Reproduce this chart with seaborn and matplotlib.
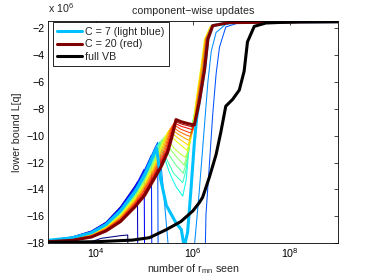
import numpy as np
import matplotlib
matplotlib.use("Agg")
import matplotlib.pyplot as plt
from matplotlib.ticker import FixedLocator, NullLocator, LogFormatterSciNotation
import seaborn as sns

sns.set_theme(style="white")
plt.rcParams['font.family'] = ['Liberation Sans', 'DejaVu Sans']
plt.rcParams['mathtext.fontset'] = 'custom'
plt.rcParams['mathtext.rm'] = 'Liberation Sans'
plt.rcParams['mathtext.it'] = 'Liberation Sans:italic'

# x values are log10(number of r_mn seen), y in units of 1e6
c01_x = [3.0, 3.9, 4.1, 4.5, 4.65, 4.66]
c01_y = [-17.95, -17.9, -17.65, -17.45, -17.4, -19.5]
c02_x = [3.0, 3.5, 3.9, 4.2, 4.5, 4.8, 4.85, 4.86]
c02_y = [-17.8, -17.55, -17.1, -16.45, -15.3, -13.75, -13.45, -19.5]
c03_x = [3.0, 3.5, 3.9, 4.2, 4.5, 4.8, 4.99, 5.0]
c03_y = [-17.8, -17.56, -17.13, -16.49, -15.36, -13.84, -12.5, -19.5]
c04_x = [3.0, 3.5, 3.9, 4.2, 4.5, 4.8, 5.0, 5.14, 5.15]
c04_y = [-17.8, -17.58, -17.15, -16.52, -15.42, -13.92, -12.55, -11.45, -19.5]
c05_x = [3.0, 3.5, 3.9, 4.2, 4.5, 4.8, 5.0, 5.2, 5.27, 5.28, 6.25, 6.27, 6.34, 6.41, 6.48, 6.55, 6.68, 6.96, 9.0]
c05_y = [-17.8, -17.59, -17.18, -16.56, -15.48, -14.01, -12.65, -11.0, -10.5, -19.5, -19.5, -15.9, -12.2, -8.4, -5.4, -3.4, -1.9, -1.57, -1.5]
c06_x = [3.0, 3.5, 3.9, 4.2, 4.5, 4.8, 5.0, 5.2, 5.3, 5.4, 5.52, 6.0, 6.13, 6.24, 6.31, 6.38, 6.48, 6.68, 7.0, 9.0]
c06_y = [-17.8, -17.6, -17.2, -16.59, -15.54, -14.09, -12.8, -11.15, -10.55, -14.5, -19.5, -19.5, -14.2, -9.2, -6.0, -3.7, -2.3, -1.7, -1.55, -1.5]
c07_x = [3.0, 3.5, 3.9, 4.2, 4.5, 4.8, 5.0, 5.2, 5.25, 5.33, 5.45, 5.65, 5.76, 5.82, 5.89, 5.96, 6.03, 6.08, 6.13, 6.24, 6.31, 6.41, 6.75, 9.0]
c07_y = [-17.8, -17.61, -17.23, -16.63, -15.6, -14.18, -12.95, -11.3, -10.95, -13.2, -15.2, -16.5, -17.0, -18.3, -17.2, -14.0, -10.5, -8.6, -7.5, -5.1, -2.8, -1.8, -1.57, -1.5]
c08_x = [3.0, 3.5, 3.9, 4.2, 4.5, 4.8, 5.0, 5.2, 5.28, 5.38, 5.52, 5.65, 5.79, 5.86, 5.91, 5.97, 6.08, 6.18, 6.26, 6.38, 6.68, 9.0]
c08_y = [-17.85, -17.63, -17.25, -16.67, -15.67, -14.27, -13.05, -11.45, -10.6, -11.3, -12.8, -13.8, -14.5, -13.3, -11.3, -9.5, -7.5, -5.0, -2.8, -1.83, -1.59, -1.5]
c09_x = [3.0, 3.5, 3.9, 4.2, 4.5, 4.8, 5.0, 5.2, 5.31, 5.45, 5.6, 5.79, 5.86, 5.92, 5.98, 6.08, 6.18, 6.26, 6.38, 6.68, 9.0]
c09_y = [-17.85, -17.64, -17.28, -16.7, -15.73, -14.35, -13.15, -11.6, -10.45, -11.7, -12.8, -13.5, -12.5, -10.9, -9.3, -7.5, -5.0, -2.8, -1.83, -1.59, -1.5]
c10_x = [3.0, 3.5, 3.9, 4.2, 4.5, 4.8, 5.0, 5.2, 5.35, 5.5, 5.65, 5.8, 5.87, 5.93, 5.99, 6.08, 6.18, 6.26, 6.38, 6.68, 9.0]
c10_y = [-17.85, -17.65, -17.3, -16.74, -15.79, -14.44, -13.25, -11.75, -10.3, -11.4, -12.2, -12.8, -11.9, -10.5, -9.2, -7.5, -5.0, -2.8, -1.83, -1.59, -1.5]
c11_x = [3.0, 3.5, 3.9, 4.2, 4.5, 4.8, 5.0, 5.2, 5.39, 5.55, 5.7, 5.82, 5.88, 5.94, 6.0, 6.08, 6.18, 6.26, 6.38, 6.68, 9.0]
c11_y = [-17.85, -17.66, -17.33, -16.77, -15.85, -14.52, -13.35, -11.9, -10.15, -11.1, -11.75, -12.2, -11.4, -10.2, -9.1, -7.5, -5.0, -2.8, -1.83, -1.59, -1.5]
c12_x = [3.0, 3.5, 3.9, 4.2, 4.5, 4.8, 5.0, 5.2, 5.43, 5.6, 5.74, 5.84, 5.91, 5.97, 6.03, 6.08, 6.18, 6.26, 6.38, 6.68, 9.0]
c12_y = [-17.85, -17.67, -17.35, -16.81, -15.91, -14.61, -13.45, -12.0, -10.0, -10.9, -11.35, -11.6, -11.1, -10.0, -8.9, -7.5, -5.0, -2.8, -1.83, -1.59, -1.5]
c13_x = [3.0, 3.5, 3.9, 4.2, 4.5, 4.8, 5.0, 5.2, 5.35, 5.47, 5.65, 5.8, 5.88, 5.95, 6.0, 6.06, 6.16, 6.24, 6.36, 6.65, 9.0]
c13_y = [-17.85, -17.68, -17.38, -16.85, -15.97, -14.7, -13.6, -12.15, -10.8, -9.75, -10.4, -10.85, -11.1, -10.3, -9.2, -7.5, -5.0, -2.8, -1.85, -1.6, -1.5]
c14_x = [3.0, 3.5, 3.9, 4.2, 4.5, 4.8, 5.0, 5.2, 5.37, 5.5, 5.68, 5.82, 5.9, 5.96, 6.02, 6.07, 6.17, 6.25, 6.37, 6.66, 9.0]
c14_y = [-17.85, -17.7, -17.4, -16.88, -16.03, -14.78, -13.7, -12.3, -10.85, -9.6, -10.15, -10.5, -10.7, -10.1, -9.0, -7.5, -5.0, -2.8, -1.84, -1.6, -1.5]
c15_x = [3.0, 3.5, 3.9, 4.2, 4.5, 4.8, 5.0, 5.2, 5.39, 5.53, 5.7, 5.84, 5.92, 5.98, 6.03, 6.08, 6.18, 6.26, 6.38, 6.68, 9.0]
c15_y = [-17.9, -17.72, -17.43, -16.92, -16.09, -14.87, -13.8, -12.45, -10.9, -9.45, -9.9, -10.2, -10.35, -9.8, -8.9, -7.5, -5.0, -2.8, -1.83, -1.59, -1.5]
c16_x = [3.0, 3.5, 3.9, 4.2, 4.5, 4.8, 5.0, 5.2, 5.41, 5.56, 5.72, 5.86, 5.94, 6.0, 6.04, 6.09, 6.2, 6.27, 6.39, 6.7, 9.0]
c16_y = [-17.9, -17.74, -17.45, -16.95, -16.15, -14.95, -13.95, -12.6, -11.0, -9.3, -9.7, -9.95, -10.05, -9.6, -8.8, -7.5, -5.05, -2.8, -1.82, -1.58, -1.5]
c17_x = [3.0, 3.5, 3.9, 4.2, 4.5, 4.8, 5.0, 5.2, 5.43, 5.59, 5.74, 5.88, 5.96, 6.01, 6.05, 6.1, 6.21, 6.28, 6.4, 6.72, 9.0]
c17_y = [-17.9, -17.76, -17.48, -16.99, -16.22, -15.04, -14.05, -12.75, -11.05, -9.15, -9.5, -9.7, -9.8, -9.4, -8.7, -7.5, -5.05, -2.8, -1.81, -1.58, -1.5]
c18_x = [3.0, 3.5, 3.9, 4.2, 4.5, 4.8, 5.0, 5.2, 5.45, 5.61, 5.76, 5.9, 5.98, 6.02, 6.06, 6.11, 6.22, 6.29, 6.4, 6.73, 9.0]
c18_y = [-17.9, -17.77, -17.5, -17.03, -16.28, -15.13, -14.2, -12.9, -11.1, -9.05, -9.3, -9.45, -9.55, -9.2, -8.6, -7.5, -5.1, -2.8, -1.8, -1.57, -1.5]
c19_x = [3.0, 3.5, 3.9, 4.2, 4.5, 4.8, 5.0, 5.2, 5.47, 5.63, 5.78, 5.92, 6.0, 6.03, 6.07, 6.12, 6.23, 6.3, 6.41, 6.74, 9.0]
c19_y = [-17.9, -17.79, -17.53, -17.06, -16.34, -15.21, -14.3, -13.05, -11.1, -8.95, -9.15, -9.28, -9.35, -9.0, -8.4, -7.5, -5.1, -2.8, -1.8, -1.57, -1.5]
c20_x = [3.0, 3.5, 3.9, 4.2, 4.5, 4.8, 5.0, 5.2, 5.35, 5.48, 5.58, 5.65, 5.75, 5.9, 6.03, 6.13, 6.24, 6.31, 6.41, 6.75, 9.0]
c20_y = [-17.9, -17.8, -17.55, -17.1, -16.4, -15.3, -14.45, -13.2, -12.25, -11.2, -9.9, -8.8, -8.95, -9.1, -9.2, -7.5, -5.1, -2.8, -1.8, -1.57, -1.5]

vb_x = [3.0, 4.0, 4.75, 5.1, 5.45, 5.75, 6.0, 6.13, 6.2, 6.34, 6.48, 6.58, 6.68, 6.82, 6.96, 7.06, 7.13, 7.27, 7.51, 8.2, 9.0]
vb_y = [-17.95, -17.9, -17.78, -17.6, -17.0, -16.4, -15.6, -15.0, -14.6, -13.1, -11.4, -9.7, -7.8, -7.3, -6.6, -5.2, -3.0, -1.85, -1.6, -1.5, -1.5]

curves = [(c01_x, c01_y), (c02_x, c02_y), (c03_x, c03_y), (c04_x, c04_y), (c05_x, c05_y),
          (c06_x, c06_y), (c07_x, c07_y), (c08_x, c08_y), (c09_x, c09_y), (c10_x, c10_y),
          (c11_x, c11_y), (c12_x, c12_y), (c13_x, c13_y), (c14_x, c14_y), (c15_x, c15_y),
          (c16_x, c16_y), (c17_x, c17_y), (c18_x, c18_y), (c19_x, c19_y), (c20_x, c20_y)]

y_ticks = [-18, -16, -14, -12, -10, -8, -6, -4, -2]
x_ticks = [1e4, 1e6, 1e8]

jet = plt.get_cmap('jet')
colors = [jet(i / 19) for i in range(20)]

fig = plt.figure(figsize=(3.73, 2.8), dpi=100)
ax = fig.add_axes([0.1287, 0.132, 0.777, 0.793])

# thin lines for every C
for i, (xs, ys) in enumerate(curves):
    if i in (6, 19):
        continue
    sns.lineplot(x=10 ** np.array(xs), y=ys, ax=ax, color=colors[i], lw=0.75,
                 sort=False, estimator=None)

# highlighted ones
sns.lineplot(x=10 ** np.array(c07_x), y=c07_y, ax=ax, color=colors[6], lw=2.2,
             sort=False, estimator=None, label='C = 7 (light blue)')
sns.lineplot(x=10 ** np.array(c20_x), y=c20_y, ax=ax, color=colors[19], lw=2.2,
             sort=False, estimator=None, label='C = 20 (red)')
sns.lineplot(x=10 ** np.array(vb_x), y=vb_y, ax=ax, color='black', lw=2.2,
             sort=False, estimator=None, label='full VB')

ax.set_xscale('log')
ax.set_xlim(1e3, 1e9)
ax.set_ylim(-18, -1.45)
ax.xaxis.set_major_locator(FixedLocator(x_ticks))
ax.xaxis.set_major_formatter(LogFormatterSciNotation())
ax.xaxis.set_minor_locator(NullLocator())
ax.set_yticks(y_ticks)
ax.tick_params(direction='in', length=3, width=0.5, top=True, right=True,
               labelsize=7.7, pad=2.5, colors='black')

for s in ax.spines.values():
    s.set_visible(True)
    s.set_color('black')
    s.set_linewidth(0.6)

ax.set_title('component\u2212wise updates', fontsize=7.7, pad=5)
ax.set_xlabel(r'number of r$_{\mathrm{mn}}$ seen', fontsize=7.7, labelpad=1.5)
ax.set_ylabel('lower bound L[q]', fontsize=7.7, labelpad=3)
ax.text(0.0, 1.025, r'x 10$^{6}$', transform=ax.transAxes, fontsize=7.7,
        ha='left', va='bottom')

handles, labels = ax.get_legend_handles_labels()
leg = ax.legend(handles, labels, loc='upper left', bbox_to_anchor=(0.017, 0.994),
                fontsize=7.7, frameon=True, fancybox=False, framealpha=1,
                edgecolor='black', borderaxespad=0, borderpad=0.4,
                handlelength=2.3, handletextpad=0.3, labelspacing=0.25)
leg.get_frame().set_linewidth(0.6)

fig.savefig('out.png', dpi=100)
